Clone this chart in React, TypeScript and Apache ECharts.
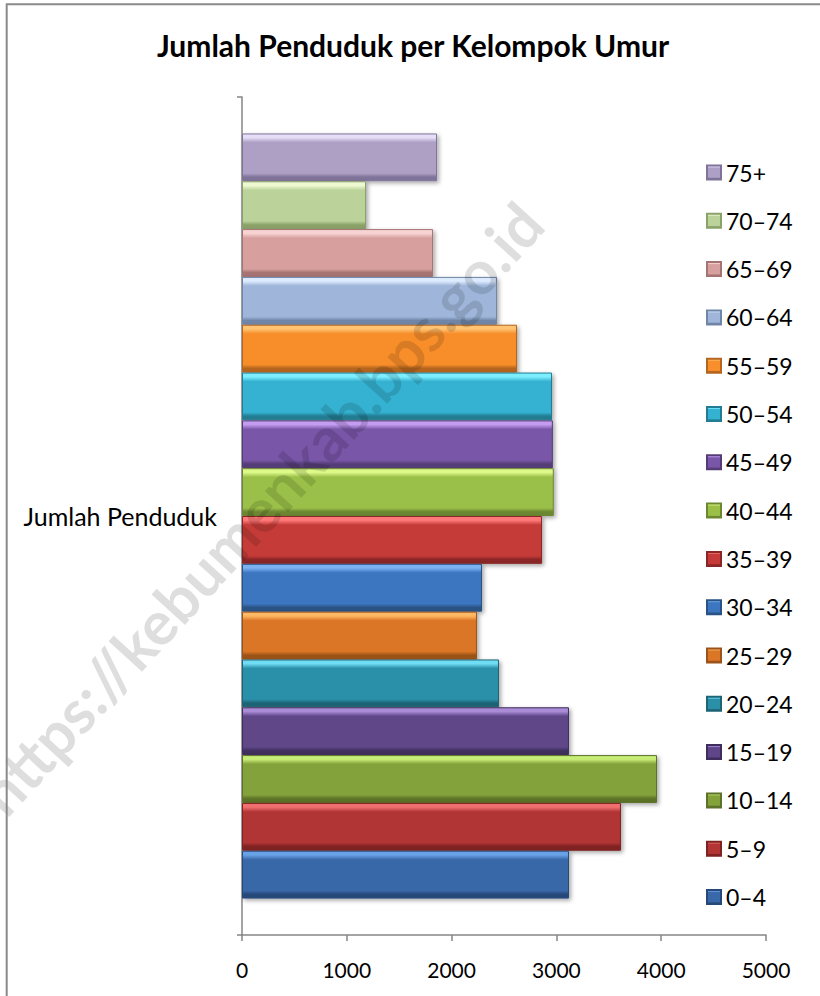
import React, { useEffect, useRef } from "react";
import * as echarts from "echarts";

const categories = ["Jumlah Penduduk"];
const ageGroups = ["0–4", "5–9", "10–14", "15–19", "20–24", "25–29", "30–34", "35–39", "40–44", "45–49", "50–54", "55–59", "60–64", "65–69", "70–74", "75+"];
const populations = [3120, 3616, 3960, 3120, 2452, 2242, 2290, 2863, 2975, 2966, 2958, 2624, 2433, 1823, 1183, 1861];
const xMin = 0;
const xMax = 5000;
const xInterval = 1000;

// [top highlight, base, bottom shade]
const palette: string[][] = [
  ["#6AA2E8", "#3868A8", "#27497A"],
  ["#F07070", "#B23434", "#7F2222"],
  ["#C7EC78", "#84A23A", "#5C7228"],
  ["#A98BD6", "#5E4688", "#3F2E5D"],
  ["#6FDDF5", "#2B8FA8", "#1D6475"],
  ["#FFB864", "#DB7626", "#9C5319"],
  ["#7BB1F2", "#3C76C0", "#2A5385"],
  ["#FF7A78", "#C53A39", "#8A2626"],
  ["#DDF98A", "#9BC048", "#6C8732"],
  ["#C49CF0", "#7957A8", "#553C77"],
  ["#7DEEFF", "#34B2D1", "#237C92"],
  ["#FFC372", "#F88E2C", "#B5651D"],
  ["#DDEBFF", "#9FB6DA", "#7086A8"],
  ["#F7D4D3", "#D7A09F", "#A57372"],
  ["#EEF9D2", "#BBD39A", "#8AA168"],
  ["#E6DDF6", "#ADA0C4", "#7F7399"],
];

const FONT = "Lato, 'Noto Sans', sans-serif";

export default function App() {
  const ref = useRef<HTMLDivElement>(null);
  useEffect(() => {
    if (!ref.current) return;
    const chart = echarts.init(ref.current, undefined, { renderer: "svg" });
    const order = ageGroups.map((_, i) => i).reverse(); // first series drawn at top
    const series = order.map((i) => {
      const [hi, base, lo] = palette[i];
      return {
        name: ageGroups[i],
        type: "bar",
        barGap: "0%",
        barCategoryGap: "8.7%",
        data: [populations[i]],
        itemStyle: {
          color: new echarts.graphic.LinearGradient(0, 0, 0, 1, [
            { offset: 0, color: hi },
            { offset: 0.08, color: hi },
            { offset: 0.18, color: base },
            { offset: 0.84, color: base },
            { offset: 0.92, color: lo },
            { offset: 1, color: lo },
          ]),
          borderColor: lo,
          borderWidth: 1,
          shadowColor: "rgba(0,0,0,0.35)",
          shadowBlur: 4,
          shadowOffsetX: 2,
          shadowOffsetY: 2,
        },
      };
    });
    chart.setOption({
      animation: false,
      backgroundColor: "#ffffff",
      textStyle: { fontFamily: FONT },
      title: {
        text: "Jumlah Penduduk per Kelompok Umur",
        left: 413,
        textAlign: "center",
        top: 30,
        padding: 0,
        textStyle: { fontFamily: FONT, fontSize: 30, fontWeight: "bold", color: "#000" },
      },
      legend: {
        orient: "vertical",
        left: 706,
        top: 161,
        padding: 0,
        icon: "rect",
        itemWidth: 14,
        itemHeight: 14,
        itemGap: 25.3,
        data: ageGroups.slice().reverse(),
        textStyle: { fontFamily: FONT, fontSize: 23, color: "#000", lineHeight: 22 },
      },
      grid: { left: 242, right: 54, top: 97, bottom: 61, containLabel: false },
      xAxis: {
        type: "value",
        min: xMin,
        max: xMax,
        interval: xInterval,
        axisLine: { show: true, lineStyle: { color: "#868686", width: 1.5 } },
        axisTick: { show: true, length: 6, lineStyle: { color: "#868686", width: 1.5 } },
        splitLine: { show: false },
        axisLabel: {
          fontFamily: FONT,
          fontSize: 21,
          color: "#000",
          margin: 24,
          formatter: (v: number) => String(v),
        },
      },
      yAxis: {
        type: "category",
        data: categories,
        axisLine: { show: true, lineStyle: { color: "#868686", width: 1.5 } },
        axisTick: { show: true, length: 5, lineStyle: { color: "#868686", width: 1.5 } },
        axisLabel: { fontFamily: FONT, fontSize: 25, color: "#000", margin: 25 },
      },
      graphic: [
        {
          type: "rect",
          silent: true,
          z: 200,
          shape: { x: 6.7, y: 4.3, width: 1200, height: 1200 },
          style: { fill: "none", stroke: "#8a8a8a", lineWidth: 2 },
        },
        {
          type: "text",
          silent: true,
          z: 150,
          x: 260,
          y: 508,
          rotation: 0.83,
          style: {
            text: "https://kebumenkab.bps.go.id",
            fontFamily: FONT,
            fontSize: 61,
            fontWeight: "bold",
            fill: "rgba(0,0,0,0.13)",
            textAlign: "center",
            textVerticalAlign: "middle",
          },
        },
      ],
      series,
    });
    return () => chart.dispose();
  }, []);
  return (
    <div
      ref={ref}
      style={{ position: "fixed", left: 0, top: 0, width: 820, height: 996 }}
    />
  );
}
